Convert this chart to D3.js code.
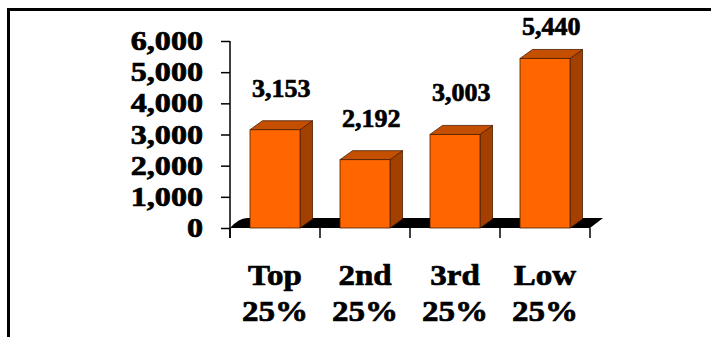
<!DOCTYPE html>
<html>
<head>
<meta charset="utf-8">
<script src="https://cdn.jsdelivr.net/npm/d3@7"></script>
<style>
  html, body { margin: 0; padding: 0; background: #fff; }
  svg { display: block; }
  text { font-family: "Liberation Serif", "Times New Roman", serif; font-weight: bold; fill: #000; stroke: #000; stroke-width: 0.7px; }
</style>
</head>
<body>
<svg id="chart" width="711" height="337"></svg>
<script>
const categories = ["Top 25%", "2nd 25%", "3rd 25%", "Low 25%"];
const values = [3153, 2192, 3003, 5440];
const valueLabels = ["3,153", "2,192", "3,003", "5,440"];
const yTicks = [0, 1000, 2000, 3000, 4000, 5000, 6000];

const svg = d3.select("#chart");
const DX = 12.5, DY = -9;          // bar depth
const FDX = 13, FDY = -10;         // floor depth
const y0px = 228, yTop = 41;

// frame
svg.append("rect").attr("x", 8.5).attr("y", 9.5).attr("width", 800).attr("height", 400)
  .attr("fill", "none").attr("stroke", "#000").attr("stroke-width", 3);

const x = d3.scaleBand().domain(categories).range([230, 590])
  .paddingInner(4 / 9).paddingOuter(2 / 9);
const y = d3.scaleLinear().domain([0, 6000]).range([y0px, yTop]);

// floor
const fx0 = 230, fx1 = 590;
svg.append("path")
  .attr("d", `M${fx0},${y0px} L${fx1},${y0px} L${fx1 + FDX},${y0px + FDY} L${fx0 + FDX + 4},${y0px + FDY} Q${fx0 + FDX - 4},${y0px + FDY} ${fx0},${y0px} Z`)
  .attr("fill", "#000");

// y axis
const yAxis = d3.axisLeft(y).tickValues(yTicks).tickSize(9).tickFormat("");
const ga = svg.append("g").attr("transform", "translate(230,0)").call(yAxis);
ga.select(".domain").remove();
ga.selectAll("line").attr("stroke", "#000").attr("stroke-width", 1.5);
svg.append("line").attr("x1", 230).attr("x2", 230).attr("y1", yTop).attr("y2", y0px + 10)
  .attr("stroke", "#000").attr("stroke-width", 1.5);

// y tick labels (horizontally stretched, like the original)
svg.append("g").selectAll("g").data(yTicks).join("g")
  .attr("transform", d => `translate(203,${y(d) + 9}) scale(1.19,1)`)
  .append("text").attr("text-anchor", "end").attr("font-size", 27)
  .text(d => d3.format(",")(d));

// category ticks
const bounds = [0, 1, 2, 3, 4].map(i => 230 + i * x.step());
svg.append("g").selectAll("line").data(bounds).join("line")
  .attr("x1", d => d).attr("x2", d => d).attr("y1", y0px).attr("y2", y0px + 10)
  .attr("stroke", "#000").attr("stroke-width", 1.5);

// bars
const bw = x.bandwidth();
const bars = svg.append("g").selectAll("g").data(values).join("g");
bars.append("path") // side
  .attr("d", (d, i) => {
    const xr = x(categories[i]) + bw, yt = y(d);
    return `M${xr},${yt} L${xr + DX},${yt + DY} L${xr + DX},${y0px + DY} L${xr},${y0px} Z`;
  })
  .attr("fill", "#A34000").attr("stroke", "#4a1e00").attr("stroke-width", 0.8);
bars.append("path") // top
  .attr("d", (d, i) => {
    const xl = x(categories[i]), yt = y(d);
    return `M${xl},${yt} L${xl + DX},${yt + DY} L${xl + bw + DX},${yt + DY} L${xl + bw},${yt} Z`;
  })
  .attr("fill", "#C44F00").attr("stroke", "#4a1e00").attr("stroke-width", 0.8);
bars.append("rect") // front
  .attr("x", (d, i) => x(categories[i])).attr("y", d => y(d))
  .attr("width", bw).attr("height", d => y0px - y(d))
  .attr("fill", "#FF6600").attr("stroke", "#4a1e00").attr("stroke-width", 0.8);

// value labels
svg.append("g").selectAll("text").data(values).join("text")
  .attr("x", (d, i) => x(categories[i]) + bw / 2 + DX / 2)
  .attr("y", d => Math.max(y(d) - 33, 35))
  .attr("text-anchor", "middle").attr("font-size", 26)
  .text((d, i) => valueLabels[i]);

// category labels (two lines)
const cl = svg.append("g").selectAll("g").data(categories).join("g")
  .attr("transform", d => `translate(${x(d) + bw / 2},0)`);
cl.append("g").attr("transform", "translate(0,285) scale(1.1,1)")
  .append("text").attr("text-anchor", "middle").attr("font-size", 30)
  .text(d => d.split(" ")[0]);
cl.append("g").attr("transform", "translate(0,321) scale(1.1,1)")
  .append("text").attr("text-anchor", "middle").attr("font-size", 30)
  .text(d => d.split(" ")[1]);
</script>
</body>
</html>
